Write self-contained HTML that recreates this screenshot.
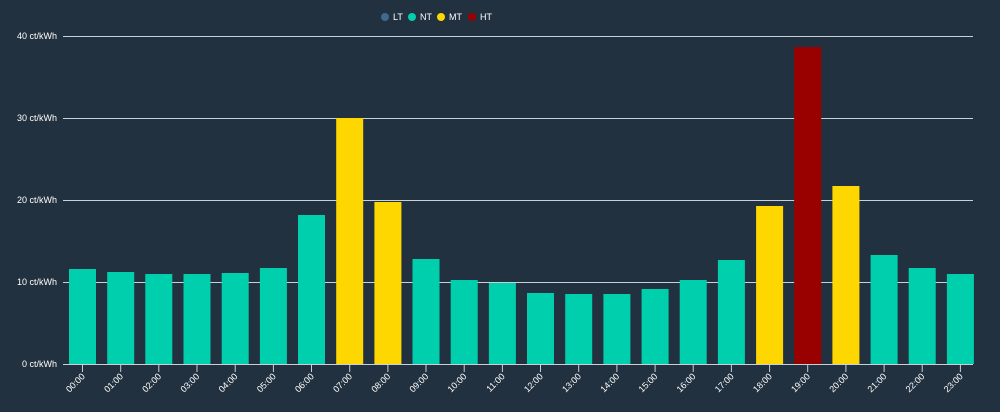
<!DOCTYPE html><html><head><style>body{margin:0;background:#22313f;}svg{display:block}text{font-family:"Liberation Sans",sans-serif;fill:#fff;font-size:9px}</style></head><body>
<svg width="1000" height="412" xmlns="http://www.w3.org/2000/svg">
<rect width="1000" height="412" fill="#22313f"/>
<circle cx="385" cy="17" r="4" fill="#3e6a8f"/><text x="393" y="20">LT</text>
<circle cx="412" cy="17" r="4" fill="#00cfad"/><text x="420" y="20">NT</text>
<circle cx="441" cy="17" r="4" fill="#ffd700"/><text x="449" y="20">MT</text>
<circle cx="472" cy="17" r="4" fill="#990000"/><text x="480" y="20">HT</text>
<g stroke="#c8d0d8" stroke-width="1">
<line x1="63" y1="36.5" x2="973" y2="36.5"/>
<line x1="63" y1="118.5" x2="973" y2="118.5"/>
<line x1="63" y1="200.5" x2="973" y2="200.5"/>
<line x1="63" y1="282.5" x2="973" y2="282.5"/>
</g>
<g text-anchor="end">
<text x="57" y="39">40 ct/kWh</text><text x="57" y="121">30 ct/kWh</text><text x="57" y="203">20 ct/kWh</text><text x="57" y="285">10 ct/kWh</text><text x="57" y="367">0 ct/kWh</text>
</g>
<g fill="#00cfad">
<rect x="69" y="269" width="27" height="95"/>
<rect x="107.2" y="272" width="27" height="92"/>
<rect x="145.3" y="274" width="27" height="90"/>
<rect x="183.5" y="274" width="27" height="90"/>
<rect x="221.7" y="273" width="27" height="91"/>
<rect x="259.9" y="268" width="27" height="96"/>
<rect x="298" y="215" width="27" height="149"/>
<rect x="412.5" y="259" width="27" height="105"/>
<rect x="450.7" y="280" width="27" height="84"/>
<rect x="488.9" y="283" width="27" height="81"/>
<rect x="527" y="293" width="27" height="71"/>
<rect x="565.2" y="294" width="27" height="70"/>
<rect x="603.4" y="294" width="27" height="70"/>
<rect x="641.6" y="289" width="27" height="75"/>
<rect x="679.7" y="280" width="27" height="84"/>
<rect x="717.9" y="260" width="27" height="104"/>
<rect x="870.6" y="255" width="27" height="109"/>
<rect x="908.7" y="268" width="27" height="96"/>
<rect x="946.9" y="274" width="27" height="90"/>
</g>
<g fill="#ffd700">
<rect x="336.2" y="118" width="27" height="246"/>
<rect x="374.4" y="202" width="27" height="162"/>
<rect x="756.1" y="206" width="27" height="158"/>
<rect x="832.4" y="186" width="27" height="178"/>
</g>
<rect x="794.2" y="47" width="27" height="317" fill="#990000"/>
<line x1="63" y1="364.5" x2="973" y2="364.5" stroke="#c8d0d8"/>
<g stroke="#c8d0d8">
<line x1="82.5" y1="365" x2="82.5" y2="372"/><line x1="120.7" y1="365" x2="120.7" y2="372"/><line x1="158.8" y1="365" x2="158.8" y2="372"/><line x1="197" y1="365" x2="197" y2="372"/><line x1="235.2" y1="365" x2="235.2" y2="372"/><line x1="273.4" y1="365" x2="273.4" y2="372"/><line x1="311.5" y1="365" x2="311.5" y2="372"/><line x1="349.7" y1="365" x2="349.7" y2="372"/><line x1="387.9" y1="365" x2="387.9" y2="372"/><line x1="426" y1="365" x2="426" y2="372"/><line x1="464.2" y1="365" x2="464.2" y2="372"/><line x1="502.4" y1="365" x2="502.4" y2="372"/><line x1="540.5" y1="365" x2="540.5" y2="372"/><line x1="578.7" y1="365" x2="578.7" y2="372"/><line x1="616.9" y1="365" x2="616.9" y2="372"/><line x1="655.1" y1="365" x2="655.1" y2="372"/><line x1="693.2" y1="365" x2="693.2" y2="372"/><line x1="731.4" y1="365" x2="731.4" y2="372"/><line x1="769.6" y1="365" x2="769.6" y2="372"/><line x1="807.7" y1="365" x2="807.7" y2="372"/><line x1="845.9" y1="365" x2="845.9" y2="372"/><line x1="884.1" y1="365" x2="884.1" y2="372"/><line x1="922.2" y1="365" x2="922.2" y2="372"/><line x1="960.4" y1="365" x2="960.4" y2="372"/>
</g>
<g text-anchor="end">
<text transform="translate(85.5,377) rotate(-45)">00:00</text>
<text transform="translate(123.7,377) rotate(-45)">01:00</text>
<text transform="translate(161.8,377) rotate(-45)">02:00</text>
<text transform="translate(200,377) rotate(-45)">03:00</text>
<text transform="translate(238.2,377) rotate(-45)">04:00</text>
<text transform="translate(276.4,377) rotate(-45)">05:00</text>
<text transform="translate(314.5,377) rotate(-45)">06:00</text>
<text transform="translate(352.7,377) rotate(-45)">07:00</text>
<text transform="translate(390.9,377) rotate(-45)">08:00</text>
<text transform="translate(429,377) rotate(-45)">09:00</text>
<text transform="translate(467.2,377) rotate(-45)">10:00</text>
<text transform="translate(505.4,377) rotate(-45)">11:00</text>
<text transform="translate(543.5,377) rotate(-45)">12:00</text>
<text transform="translate(581.7,377) rotate(-45)">13:00</text>
<text transform="translate(619.9,377) rotate(-45)">14:00</text>
<text transform="translate(658.1,377) rotate(-45)">15:00</text>
<text transform="translate(696.2,377) rotate(-45)">16:00</text>
<text transform="translate(734.4,377) rotate(-45)">17:00</text>
<text transform="translate(772.6,377) rotate(-45)">18:00</text>
<text transform="translate(810.7,377) rotate(-45)">19:00</text>
<text transform="translate(848.9,377) rotate(-45)">20:00</text>
<text transform="translate(887.1,377) rotate(-45)">21:00</text>
<text transform="translate(925.2,377) rotate(-45)">22:00</text>
<text transform="translate(963.4,377) rotate(-45)">23:00</text>
</g>
</svg></body></html>
